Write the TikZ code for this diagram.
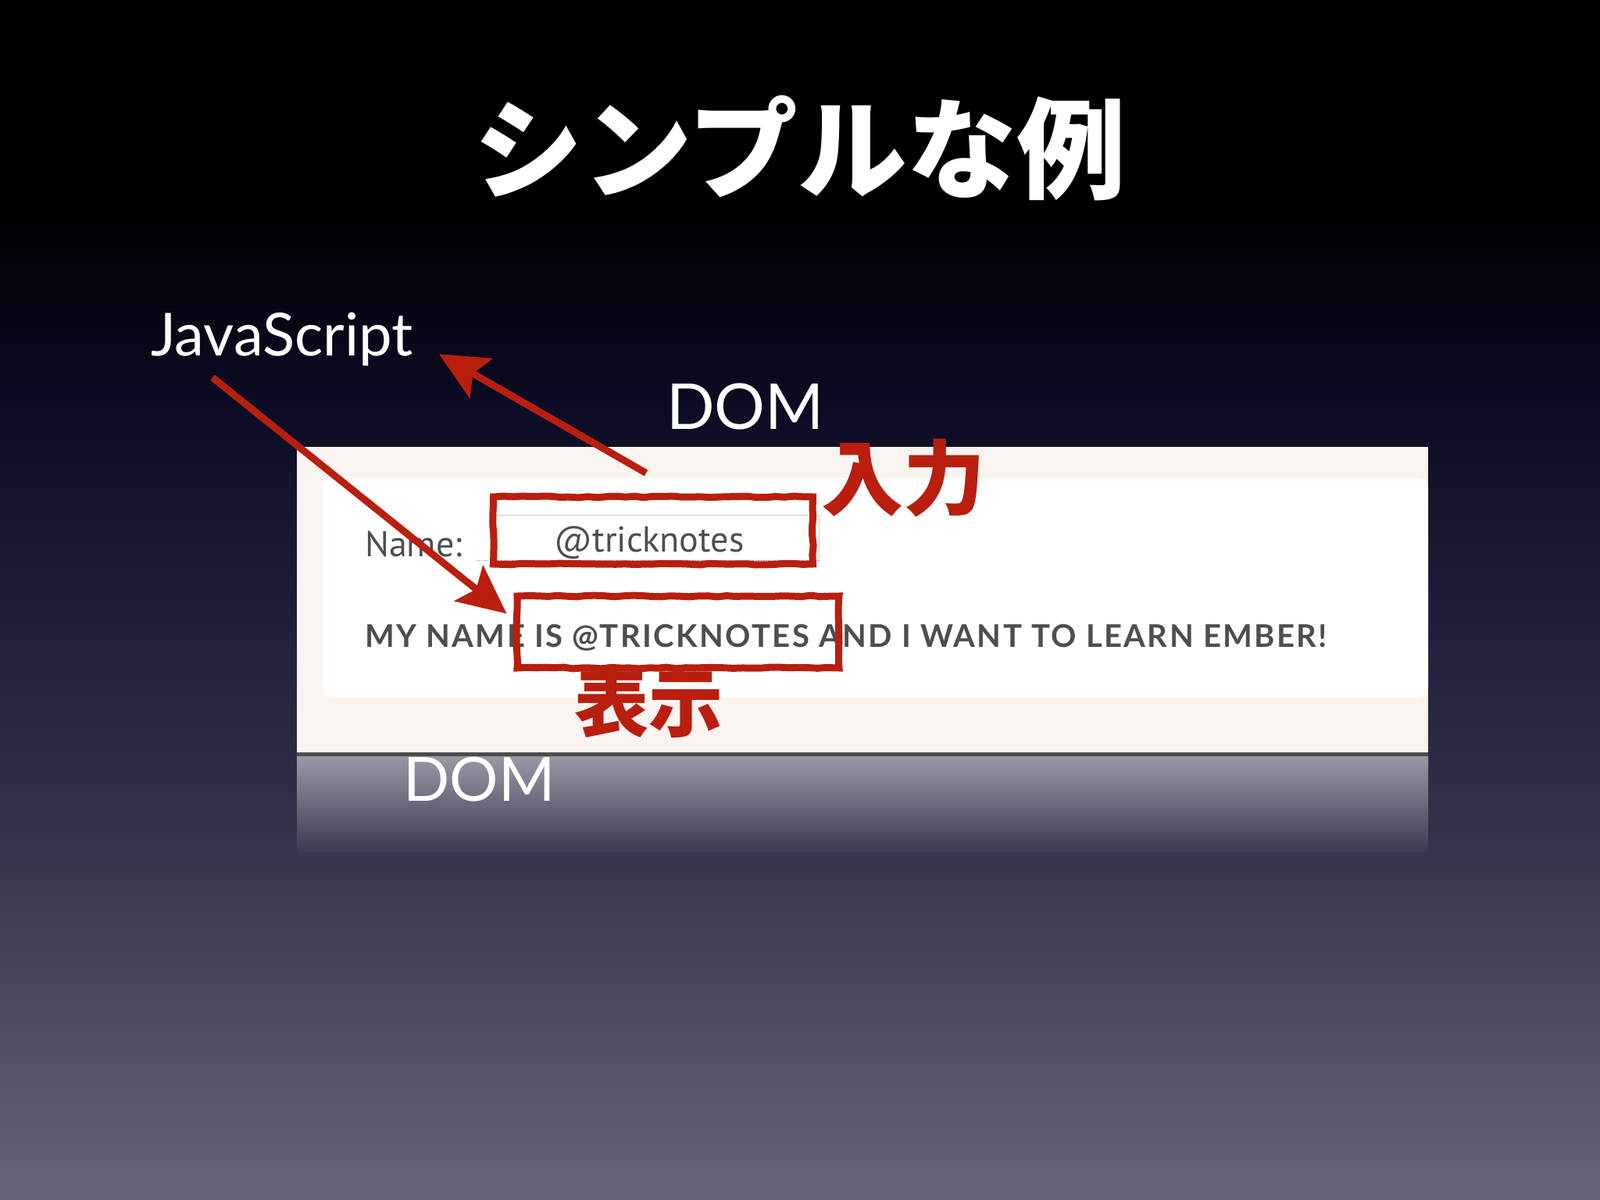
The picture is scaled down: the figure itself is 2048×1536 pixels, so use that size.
\documentclass[tikz,border=0pt]{standalone}
\usepackage{fontspec}
\setmainfont{Lato}
\newfontfamily\cjk{Noto Sans CJK JP}
\newfontfamily\uifont{PT Sans}
\newfontfamily\capsfont{Lato}[LetterSpace=6]
\usetikzlibrary{arrows.meta, positioning, calc, decorations.pathmorphing}

\definecolor{bgA}{HTML}{000000}
\definecolor{bgB}{HTML}{0A0A22}
\definecolor{bgC}{HTML}{20203A}
\definecolor{bgD}{HTML}{313149}
\definecolor{bgE}{HTML}{47475E}
\definecolor{bgF}{HTML}{67657B}
\definecolor{markred}{HTML}{B91E0E}
\definecolor{paneltone}{HTML}{FAF4F0}
\definecolor{uigray}{HTML}{4E4E52}
\definecolor{refltop}{HTML}{9A98A6}
\definecolor{reflbot}{HTML}{3A3A52}

\pgfdeclareverticalshading{slidebg}{100bp}{color(0bp)=(bgF); color(25bp)=(bgF); color(34.3bp)=(bgE); color(40.8bp)=(bgD); color(49bp)=(bgC); color(58.7bp)=(bgB); color(66.9bp)=(bgA); color(100bp)=(bgA)}

\begin{document}
\begin{tikzpicture}[x=1pt, y=-1pt]
    % Styles
    \tikzstyle{title} = [text=white, inner sep=0, font=\cjk\bfseries\fontsize{140}{140}\selectfont]
    \tikzstyle{bigword} = [text=white, inner sep=0]
    \tikzstyle{uitext} = [text=uigray, inner sep=0, font=\uifont\fontsize{46}{46}\selectfont]
    \tikzstyle{capstext} = [text=uigray, inner sep=0, font=\capsfont\bfseries\fontsize{40}{40}\selectfont]
    \tikzstyle{redbox} = [rectangle, draw=markred, line width=9pt, decorate, decoration={random steps, segment length=12pt, amplitude=1pt}]
    \tikzstyle{redlabel} = [text=markred, inner sep=0, font=\cjk\bfseries]
    \tikzstyle{redarrow} = [draw=markred, line width=9pt, -{Stealth[length=62pt, width=58pt, inset=12pt]}]

    \useasboundingbox (0,0) rectangle (2048,1536);
    \shade[shading=slidebg] (0,0) rectangle (2048,1536);

    % Screenshot
    \fill[paneltone] (380,572) rectangle (1828,964);
    \fill[white, rounded corners=12pt] (413,612) rectangle (1828,893);
    \fill[black!70] (380,963) rectangle (1828,968);
    \shade[top color=refltop, bottom color=reflbot] (380,968) rectangle (1828,1090);

    \node[draw=black!20, line width=1pt, minimum width=420pt, minimum height=58pt] (field) at (838,688) {};
    \draw[black!40, dotted, line width=1.5pt] ([xshift=-18pt]field.south west) -- (field.south east);
    \node[uitext, anchor=base west] (name) at (467,712) {Name:};
    \node[uitext, anchor=base] (handle) at (831,706) {@tricknotes};
    \node[capstext, anchor=base west] (greeting) at (467,828) {MY NAME IS @TRICKNOTES AND I WANT TO LEARN EMBER!};

    % Title and words
    \node[title] (title) at (1024,190) {シンプルな例};
    \node[bigword, anchor=base west, font=\fontsize{76}{76}\selectfont] (js) at (193,455) {JavaScript};
    \node[bigword, anchor=base west, font=\fontsize{81}{81}\selectfont] (dom) at (853,549) {DOM};
    \node[bigword, anchor=base west, font=\fontsize{78}{78}\selectfont] (domlow) at (516,1025) {DOM};

    % Marks
    \node[redbox, minimum width=409pt, minimum height=86pt] (inbox) at (836,679) {};
    \node[redbox, minimum width=412pt, minimum height=92pt] (outbox) at (868,809) {};
    \node[redlabel, font=\cjk\bfseries\fontsize{105}{105}\selectfont] (inlabel) at (1156,612) {入力};
    \node[redlabel, font=\cjk\bfseries\fontsize{95}{95}\selectfont] (outlabel) at (830,899) {表示};

    % Arrows
    \draw[redarrow] ([xshift=-9pt, yshift=26pt]inbox.north) -- ([xshift=33pt, yshift=15pt]js.south east);
    \draw[redarrow] ([xshift=79pt, yshift=-15pt]js.south west) -- ([xshift=-9pt, yshift=-27pt]outbox.north west);
\end{tikzpicture}
\end{document}
